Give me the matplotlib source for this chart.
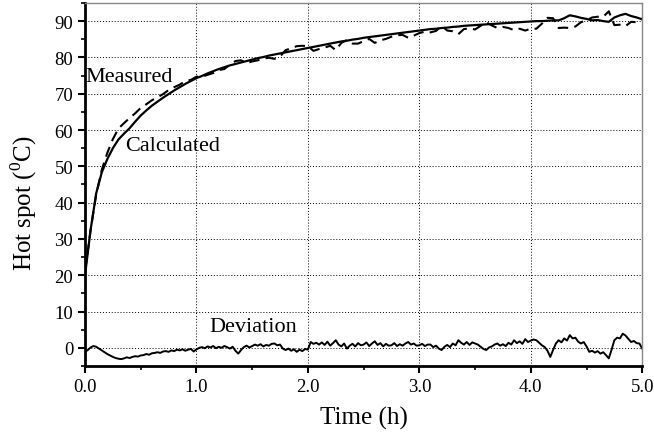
import numpy as np
import matplotlib
matplotlib.use("Agg")
import matplotlib.pyplot as plt
from matplotlib.ticker import MultipleLocator

plt.rcParams['font.family'] = ['Liberation Serif', 'DejaVu Serif']
plt.rcParams['mathtext.fontset'] = 'custom'
plt.rcParams['mathtext.rm'] = 'Liberation Serif'

# calculated hot spot temperature, every 0.05 h
calc = [20.0, 32.5, 42.5, 48.3, 52.0, 55.0, 57.4, 59.0, 60.5, 62.3,
        64.0, 65.4, 66.7, 67.8, 68.9, 69.9, 70.9, 71.8, 72.7, 73.5,
        74.3, 74.9, 75.6, 76.2, 76.8, 77.3, 77.8, 78.2, 78.6, 79.0,
        79.4, 79.8, 80.1, 80.5, 80.8, 81.1, 81.4, 81.7, 82.0, 82.3,
        82.6, 82.9, 83.2, 83.5, 83.8, 84.1, 84.4, 84.6, 84.9, 85.1,
        85.4, 85.6, 85.8, 86.0, 86.2, 86.4, 86.6, 86.8, 87.0, 87.2,
        87.4, 87.6, 87.8, 87.9, 88.1, 88.2, 88.4, 88.5, 88.7, 88.8,
        88.9, 89.0, 89.1, 89.2, 89.3, 89.4, 89.5, 89.6, 89.7, 89.8,
        89.9, 90.0, 90.0, 90.1, 90.2, 90.2, 90.8, 91.6, 91.3, 90.9,
        90.6, 90.2, 90.3, 90.0, 89.8, 91.0, 91.6, 92.0, 91.4, 91.0,
        90.5]

# deviation (calculated - measured), every 0.025 h
dev = [-1.1, -0.6, 0.1, 0.5, 0.3, -0.2, -0.7, -1.2, -1.7, -2.1,
       -2.5, -2.8, -3.0, -3.1, -2.9, -2.6, -2.8, -2.5, -2.3, -2.4,
       -2.1, -2.0, -1.7, -1.9, -1.5, -1.4, -1.2, -1.4, -1.0, -0.9,
       -1.1, -0.7, -0.9, -0.5, -0.7, -0.4, -0.8, -0.5, -0.3, -1.0,
       -0.4, 0.0, 0.2, -0.1, 0.4, 0.1, 0.5, -0.1, 0.3, 0.0,
       0.5, 0.2, -0.2, 0.3, -0.8, -1.6, -0.6, 0.2, 0.6, 0.1,
       0.5, 0.9, 0.6, 1.0, 0.4, 0.8, 0.6, 1.1, 1.2, 0.7,
       0.9, -0.2, -0.6, -0.2, -0.8, -0.4, -1.1, -0.5, -0.9, -0.3,
       -0.5, 1.6, 1.1, 1.4, 0.9, 1.5, 0.8, 1.7, 0.6, 1.3,
       2.1, 0.9, 0.4, 1.2, -0.2, 0.6, 1.1, 0.4, 1.3, 0.7,
       0.9, 1.5, 0.5, 1.2, 1.8, 0.8, 1.3, 0.4, 1.1, 0.6,
       0.7, 1.3, 0.5, 1.0, 0.6, 1.2, 1.6, 0.9, 1.2, 0.6,
       0.7, 1.1, 0.5, 0.9, 0.9, 0.2, 0.6, -0.2, -0.6, 0.3,
       0.8, 0.2, 1.2, 0.7, 2.1, 1.4, 0.9, 1.6, 0.8, 1.5,
       1.2, 0.9, 0.3, -0.3, -0.6, 0.1, 0.4, 0.9, 1.2, 0.6,
       1.0, 0.5, 1.4, 0.9, 2.1, 1.3, 1.8, 1.1, 2.4, 1.6,
       2.0, 2.3, 2.1, 1.4, 0.7, 0.2, -0.8, -2.5, -0.6, 1.2,
       2.1, 1.5, 2.6, 2.0, 3.5, 2.6, 2.8, 1.7, 1.2, 1.6,
       0.4, -1.1, -0.8, -1.3, -0.9, -1.6, -1.2, -2.0, -2.9, -0.5,
       2.1, 2.8, 2.6, 3.9, 3.4, 2.5, 1.6, 1.9, 1.3, 1.2,
       -0.2]

calc = np.array(calc)
dev = np.array(dev)
t_calc = np.arange(len(calc)) * 0.05
t_dev = np.arange(len(dev)) * 0.025
meas = calc - dev[::2]

fig = plt.figure(figsize=(6.54, 4.39), dpi=100)
ax = fig.add_axes([0.130, 0.164, 0.852, 0.827])

ax.plot(t_calc, calc, color='black', lw=1.6)
ax.plot(t_calc, meas, color='black', lw=1.5, ls=(0, (5, 3)))
ax.plot(t_dev, dev, color='black', lw=1.4)

ax.set_xlim(0, 5)
ax.set_ylim(-5, 95)
ax.xaxis.set_minor_locator(MultipleLocator(0.5))
ax.yaxis.set_major_locator(MultipleLocator(10))
ax.yaxis.set_minor_locator(MultipleLocator(5))
ax.set_xticks(np.arange(0, 5.01, 1))
ax.set_xticklabels(['%.1f' % v for v in np.arange(0, 5.01, 1)])
ax.grid(True, which='major', ls=(0, (1, 2)), color='black', lw=0.7)

ax.tick_params(which='major', direction='out', length=5, width=1.5, labelsize=13.5)
ax.tick_params(which='minor', direction='out', length=3, width=1.2)
ax.tick_params(top=False, right=False)
for s in ['left', 'bottom']:
    ax.spines[s].set_linewidth(2)
for s in ['top', 'right']:
    ax.spines[s].set_color('#888888')
    ax.spines[s].set_linewidth(1)

ax.set_xlabel('Time (h)', fontsize=18, labelpad=8)
ax.set_ylabel(r'Hot spot ($^{0}$C)', fontsize=18)
ax.yaxis.set_label_coords(-0.082, 0.45)

ax.text(0.0, 74.8, 'Measured', fontsize=16, va='center', ha='left')
ax.text(0.36, 55.6, 'Calculated', fontsize=16, va='center', ha='left')
ax.text(1.12, 5.8, 'Deviation', fontsize=16, va='center', ha='left')

fig.savefig('out.png', dpi=100)
